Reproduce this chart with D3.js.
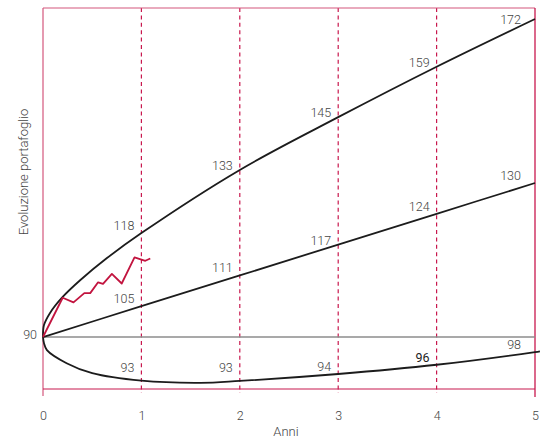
<!DOCTYPE html>
<html>
<head>
<meta charset="utf-8">
<script src="https://cdn.jsdelivr.net/npm/d3@7"></script>
<style>
  body { margin: 0; background: #fff; }
  text { font-family: Roboto, "Liberation Sans", sans-serif; font-weight: 300; fill: #444; }
</style>
</head>
<body>
<div id="chart"></div>
<script>
// values (years, portfolio value)
var years = [0, 1, 2, 3, 4, 5];
var upperBand = [[0, 90], [0.01, 93.1], [0.07, 96.2], [0.2, 100.4], [0.38, 104.8], [0.65, 110.5], [1, 117], [2, 133.4], [3, 147.1], [4, 160.2], [5, 172.6]];
var meanLine = [[0, 90], [1, 98], [2, 106], [3, 114], [4, 122], [5, 130]];
var lowerBand = [[0, 90], [0.01, 88.4], [0.04, 86.6], [0.24, 83.2], [0.5, 80.6], [1, 78.65], [1.6, 78.1], [2, 78.6], [3, 80.4], [4, 82.8], [5, 86.1], [5.05, 86.3]];
var startLine = [[0, 90], [5, 90]];
var realPath = [[0, 90], [0.2, 100.2], [0.31, 99.0], [0.42, 101.4], [0.48, 101.4], [0.56, 104.2], [0.61, 103.8], [0.7, 106.4], [0.8, 103.9], [0.93, 110.7], [1.04, 109.8], [1.09, 110.4]];

var upperLabels = ['118', '133', '145', '159', '172'];
var meanLabels = ['105', '111', '117', '124', '130'];
var lowerLabels = ['93', '93', '94', '96', '98'];
var startLabel = '90';

var width = 542, height = 438;
var svg = d3.select('#chart').append('svg').attr('width', width).attr('height', height);

var x = d3.scaleLinear().domain([0, 5]).range([43, 535]);
var y = d3.scaleLinear().domain([76.5, 175.45]).range([389, 8]);

var crimson = '#c8184e';

// dashed year lines
svg.append('g').selectAll('line').data(years.slice(1, 5)).enter().append('line')
    .attr('x1', d => x(d)).attr('x2', d => x(d)).attr('y1', y.range()[1]).attr('y2', 393)
    .attr('stroke', crimson).attr('stroke-width', 1.2).attr('stroke-dasharray', '4,3.4');

// frame
svg.append('line').attr('x1', x(0)).attr('x2', x(5)).attr('y1', 8).attr('y2', 8).attr('stroke', '#d4577c').attr('stroke-width', 1.2);
svg.append('line').attr('x1', x(0)).attr('x2', x(0)).attr('y1', 8).attr('y2', 396).attr('stroke', '#d4577c').attr('stroke-width', 1.2);
svg.append('line').attr('x1', x(5)).attr('x2', x(5)).attr('y1', 8).attr('y2', 397).attr('stroke', crimson).attr('stroke-width', 1.3);
svg.append('line').attr('x1', x(0)).attr('x2', x(5)).attr('y1', 389).attr('y2', 389).attr('stroke', crimson).attr('stroke-width', 1.2);

var line = d3.line().x(d => x(d[0])).y(d => y(d[1])).curve(d3.curveCatmullRom.alpha(0.5));

svg.append('path').datum(startLine).attr('d', line).attr('fill', 'none').attr('stroke', '#8c8c8c').attr('stroke-width', 1.5);
[upperBand, meanLine, lowerBand].forEach(function (s) {
    svg.append('path').datum(s).attr('d', line).attr('fill', 'none').attr('stroke', '#1c1c1c').attr('stroke-width', 1.8);
});
svg.append('path').datum(realPath).attr('d', d3.line().x(d => x(d[0])).y(d => y(d[1])))
    .attr('fill', 'none').attr('stroke', '#c2143f').attr('stroke-width', 1.8).attr('stroke-linejoin', 'round');

// value labels at each year
function valueAt(series, t) {
    var b = series.find(d => d[0] >= t);
    return b[1];
}
function addLabels(series, labels, dyFn) {
    labels.forEach(function (txt, i) {
        var t = i + 1;
        svg.append('text').text(txt)
            .attr('x', x(t) - (t === 5 ? 14 : 7))
            .attr('y', y(valueAt(series, t)) + dyFn(t))
            .attr('text-anchor', 'end').style('font-size', '12.5px')
            .style('font-weight', txt === '96' ? 400 : null)
            .style('fill', txt === '96' ? '#222' : null);
    });
}
addLabels(upperBand, upperLabels, t => t === 1 ? -3 : (t === 5 ? 5 : 0));
addLabels(meanLine, meanLabels, t => t === 3 ? 0 : -3);
addLabels(lowerBand, lowerLabels, t => t <= 2 ? -9 : -3);
svg.append('text').text(startLabel).attr('x', x(0) - 6).attr('y', y(90) + 2)
    .attr('text-anchor', 'end').style('font-size', '12.5px');

// x axis labels
var xAxis = svg.append('g').attr('transform', 'translate(0,389)')
    .call(d3.axisBottom(x).tickValues(years).tickSize(0).tickPadding(22).tickFormat(d3.format('d')));
xAxis.select('.domain').remove();
xAxis.selectAll('text').style('font-size', '12.5px').style('font-family', null).attr('fill', null);

svg.append('text').text('Anni').attr('x', 286).attr('y', 436).attr('text-anchor', 'middle').style('font-size', '13px');
svg.append('text').text('Evoluzione portafoglio').attr('text-anchor', 'middle').style('font-size', '13px')
    .attr('transform', 'translate(28,172)rotate(-90)');
</script>
</body>
</html>
